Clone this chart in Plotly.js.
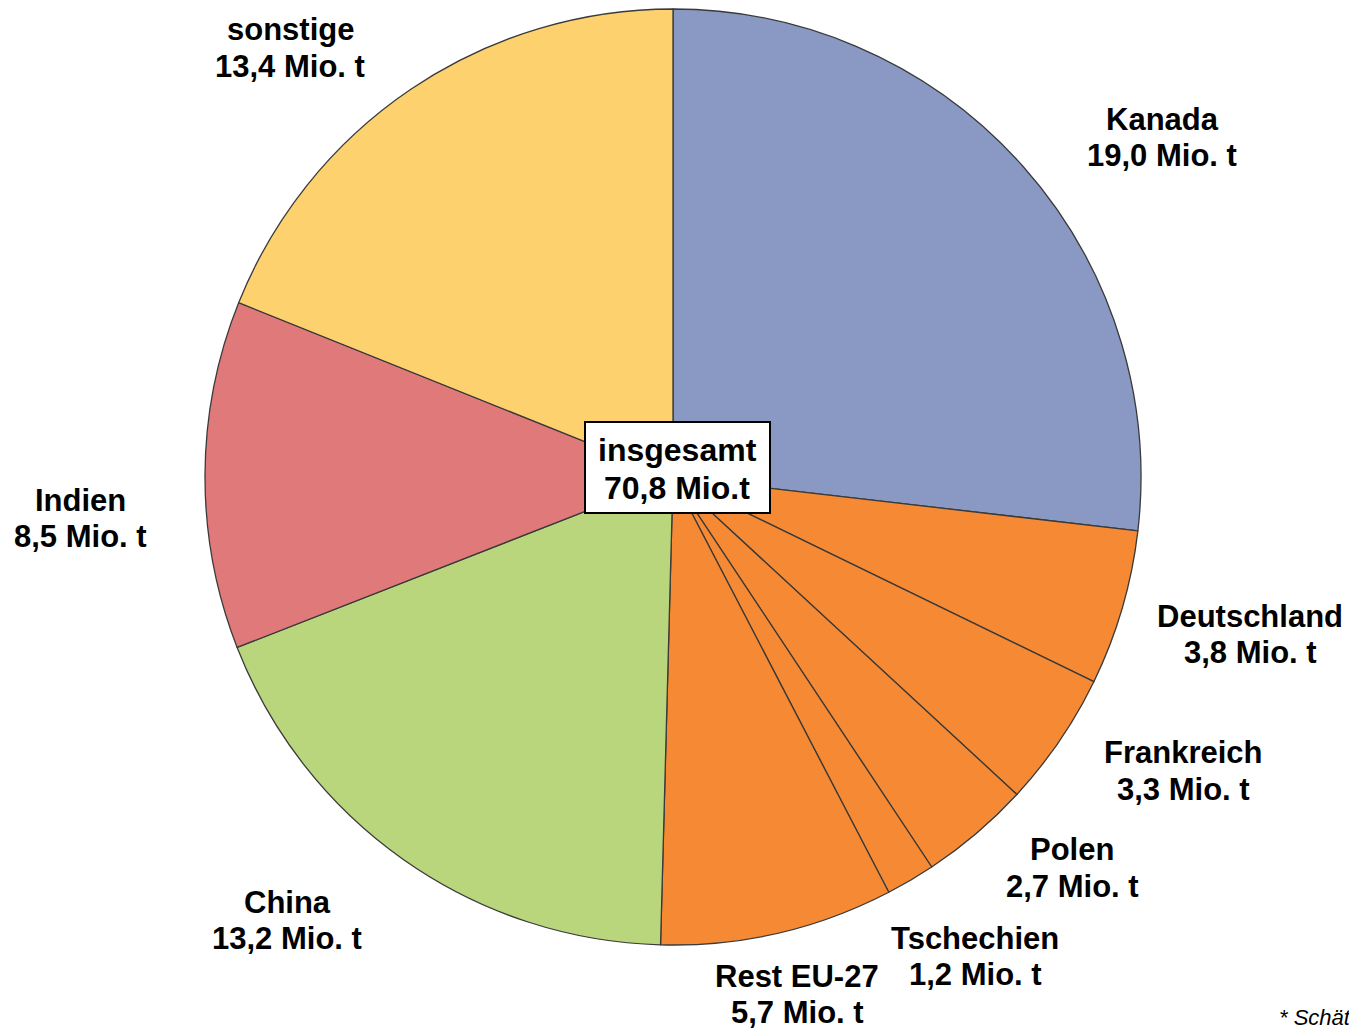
<!DOCTYPE html>
<html>
<head>
<meta charset="utf-8">
<script src="https://cdn.plot.ly/plotly-3.0.1.min.js"></script>
<style>html,body{margin:0;padding:0;background:#fff;}#chart{width:1349px;height:1030px;}</style>
</head>
<body>
<div id="chart"></div>
<script>
const labels = ["Kanada", "Deutschland", "Frankreich", "Polen", "Tschechien", "Rest EU-27", "China", "Indien", "sonstige"];
const values = [19.0, 3.8, 3.3, 2.7, 1.2, 5.7, 13.2, 8.5, 13.4];
const valueTexts = ["19,0 Mio. t", "3,8 Mio. t", "3,3 Mio. t", "2,7 Mio. t", "1,2 Mio. t", "5,7 Mio. t", "13,2 Mio. t", "8,5 Mio. t", "13,4 Mio. t"];
const colors = ["#8a99c3", "#f68933", "#f68933", "#f68933", "#f68933", "#f68933", "#b9d67c", "#e07a7a", "#fcd16e"];
const totalLines = ["insgesamt", "70,8 Mio.t"];
const footnote = "* Schätzung";

// label positions in pixels (layout only): [x centre, y of first line, y of second line]
const labelPos = [[1162, 119, 156], [1250, 616, 652], [1183, 752, 789], [1072, 849, 886], [975, 938, 974], [797, 976, 1012], [287, 902, 938], [80, 500, 536], [290, 30, 66]];

const W = 1349, H = 1030;
const cx = 673, cy = 477, r = 468;

const trace = {
  type: "pie",
  labels: labels,
  values: values,
  sort: false,
  direction: "clockwise",
  rotation: 0,
  textinfo: "none",
  hoverinfo: "label+value",
  marker: { colors: colors, line: { color: "#3a3a3a", width: 1.3 } },
  domain: { x: [(cx - r) / W, (cx + r) / W], y: [(H - cy - r) / H, (H - cy + r) / H] },
  showlegend: false
};

const font = { family: "Liberation Sans, Arial, sans-serif", size: 31, color: "#000" };
const annotations = [];
labels.forEach((l, i) => {
  [l, valueTexts[i]].forEach((t, k) => {
    annotations.push({
      xref: "paper", yref: "paper",
      x: labelPos[i][0] / W, y: 1 - labelPos[i][1 + k] / H,
      xanchor: "center", yanchor: "middle",
      text: "<b>" + t + "</b>",
      showarrow: false,
      font: font
    });
  });
});
const totalY = [450, 488];
totalLines.forEach((t, k) => {
  annotations.push({
    xref: "paper", yref: "paper",
    x: 677 / W, y: 1 - totalY[k] / H,
    xanchor: "center", yanchor: "middle",
    text: "<b>" + t + "</b>",
    showarrow: false,
    font: { family: "Liberation Sans, Arial, sans-serif", size: 32, color: "#000" }
  });
});
annotations.push({
  xref: "paper", yref: "paper",
  x: 1277 / W, y: 1 - 1017 / H,
  xanchor: "left", yanchor: "middle",
  text: "<i>" + footnote + "</i>",
  showarrow: false,
  font: { family: "Liberation Sans, Arial, sans-serif", size: 22, color: "#000" }
});

const layout = {
  width: W, height: H,
  margin: { l: 0, r: 0, t: 0, b: 0 },
  paper_bgcolor: "#ffffff",
  annotations: annotations,
  shapes: [{
    type: "rect", xref: "paper", yref: "paper",
    x0: 585 / W, x1: 770 / W, y0: 1 - 513 / H, y1: 1 - 422 / H,
    fillcolor: "#ffffff", line: { color: "#000000", width: 2 }, layer: "above"
  }]
};

Plotly.newPlot("chart", [trace], layout, { displayModeBar: false, staticPlot: true });
</script>
</body>
</html>
